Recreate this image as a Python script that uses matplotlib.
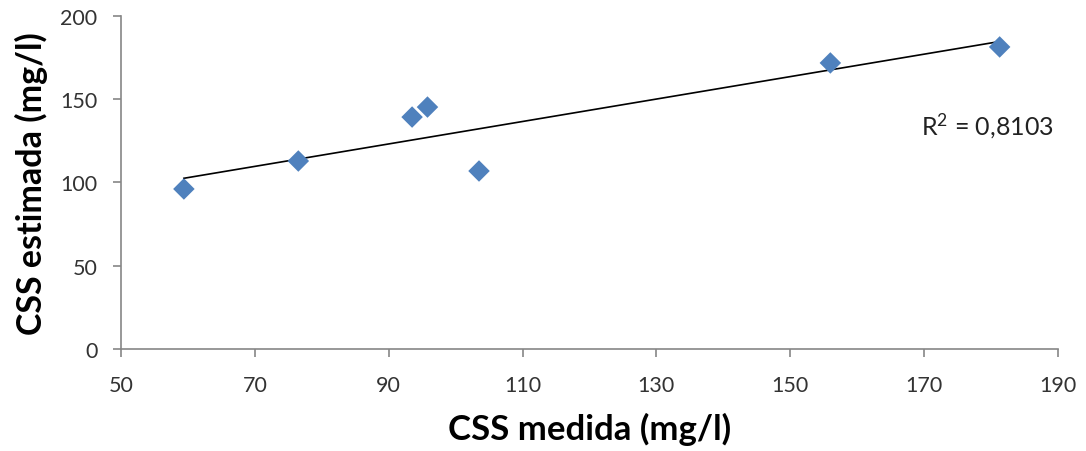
import numpy as np
import matplotlib
matplotlib.use('Agg')
from matplotlib import pyplot as plt

# CSS medida vs CSS estimada (mg/l)
css_medida = [59.4, 76.5, 93.5, 95.8, 103.5, 156.0, 181.3]
css_estimada = [96.1, 112.9, 139.3, 145.3, 106.9, 171.8, 181.4]
r2_label = 'R$^2$ = 0,8103'

plt.rcParams['font.family'] = ['Lato', 'DejaVu Sans']
plt.rcParams['mathtext.default'] = 'regular'

fig = plt.figure(figsize=(10.86, 4.52), dpi=100)
ax = fig.add_axes([0.1114, 0.2257, 0.8627, 0.7367])

ax.scatter(css_medida, css_estimada, marker='D', s=120, color='#4f81bd',
           edgecolors='none', zorder=3)

# linear trend line over data range
coef = np.polyfit(css_medida, css_estimada, 1)
xs = np.array([min(css_medida), max(css_medida)])
ax.plot(xs, np.polyval(coef, xs), color='black', lw=1.2, zorder=2)

ax.text(169.5, 129, r2_label, fontsize=18, color='#222222', va='baseline')

ax.set_xlim(50, 190)
ax.set_ylim(0, 200)
ax.set_xticks(range(50, 191, 20))
ax.set_yticks(range(0, 201, 50))

for s in ['top', 'right']:
    ax.spines[s].set_visible(False)
for s in ['left', 'bottom']:
    ax.spines[s].set_color('#868686')
    ax.spines[s].set_linewidth(1.2)
ax.tick_params(direction='out', length=6, width=1.2, color='#868686',
               labelsize=15.5, labelcolor='#333333')
ax.tick_params(axis='x', pad=13)
ax.tick_params(axis='y', pad=11)

ax.set_xlabel('CSS medida (mg/l)', fontsize=25, fontweight='bold', labelpad=12)
ax.set_ylabel('CSS estimada (mg/l)', fontsize=24.5, fontweight='bold', labelpad=9)

fig.savefig('out.png', dpi=100)
